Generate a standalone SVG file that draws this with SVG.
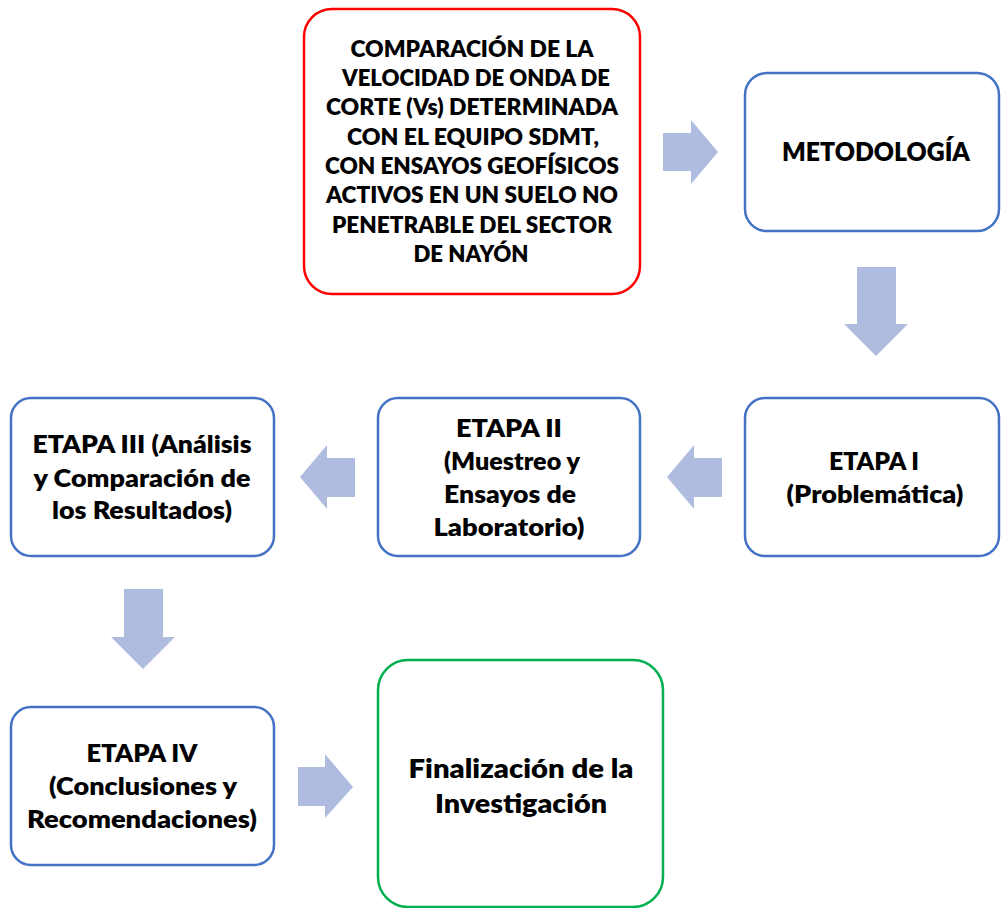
<svg xmlns="http://www.w3.org/2000/svg" width="1001" height="908" viewBox="0 0 1001 908">
<style>
.box{fill:#fff;stroke-width:2.5}
.blue{stroke:#4472C4}
.red{stroke:#FF0000}
.green{stroke:#00B050}
text{font-family:Lato,"Liberation Sans",sans-serif;font-weight:800;fill:#000;text-anchor:middle}
.t21{font-size:22px}
.t24{font-size:25px}
.t26{font-size:27px}
.arrow{fill:#B0BCDF}
</style>
<rect width="1001" height="908" fill="#fff"/>
<g id="connectors">
<polygon class="arrow" points="663,133 691,133 691,120 718,152 691,184 691,171 663,171"/>
<polygon class="arrow" points="857,267 896,267 896,324 908,324 876,356 844,324 857,324"/>
<polygon class="arrow" points="722,458 694,458 694,445 667,477 694,509 694,497 722,497"/>
<polygon class="arrow" points="355,458 327,458 327,445 300,477 327,509 327,497 355,497"/>
<polygon class="arrow" points="124,589 163,589 163,637 175,637 143,669 111,637 124,637"/>
<polygon class="arrow" points="298,767 325,767 325,754 353,787 325,818 325,806 298,806"/>
</g>
<g id="node-titulo">
<rect class="box red" x="304" y="9" width="336" height="285" rx="28"/>
<text class="t21" x="472" y="57" textLength="243" lengthAdjust="spacingAndGlyphs">COMPARACIÓN DE LA</text>
<text class="t21" x="476" y="86" textLength="268" lengthAdjust="spacingAndGlyphs">VELOCIDAD DE ONDA DE</text>
<text class="t21" x="472" y="115" textLength="292" lengthAdjust="spacingAndGlyphs">CORTE (Vs) DETERMINADA</text>
<text class="t21" x="473" y="145" textLength="252" lengthAdjust="spacingAndGlyphs">CON EL EQUIPO SDMT,</text>
<text class="t21" x="472" y="174" textLength="294" lengthAdjust="spacingAndGlyphs">CON ENSAYOS GEOFÍSICOS</text>
<text class="t21" x="472" y="203" textLength="292" lengthAdjust="spacingAndGlyphs">ACTIVOS EN UN SUELO NO</text>
<text class="t21" x="472" y="233" textLength="280" lengthAdjust="spacingAndGlyphs">PENETRABLE DEL SECTOR</text>
<text class="t21" x="471" y="262" textLength="115" lengthAdjust="spacingAndGlyphs">DE NAYÓN</text>
</g>
<g id="node-metodologia">
<rect class="box blue" x="745" y="73" width="254" height="158" rx="22"/>
<text class="t26" x="876" y="161" textLength="188" lengthAdjust="spacingAndGlyphs">METODOLOGÍA</text>
</g>
<g id="node-etapa1">
<rect class="box blue" x="745" y="398" width="254" height="158" rx="20"/>
<text class="t24" x="874" y="470" textLength="90" lengthAdjust="spacingAndGlyphs">ETAPA I</text>
<text class="t24" x="875" y="503" textLength="177" lengthAdjust="spacingAndGlyphs">(Problemática)</text>
</g>
<g id="node-etapa2">
<rect class="box blue" x="378" y="398" width="262" height="158" rx="20"/>
<text class="t24" x="509" y="437" textLength="106" lengthAdjust="spacingAndGlyphs">ETAPA II</text>
<text class="t24" x="512" y="470" textLength="136" lengthAdjust="spacingAndGlyphs">(Muestreo y</text>
<text class="t24" x="510" y="503" textLength="132" lengthAdjust="spacingAndGlyphs">Ensayos de</text>
<text class="t24" x="509" y="536" textLength="151" lengthAdjust="spacingAndGlyphs">Laboratorio)</text>
</g>
<g id="node-etapa3">
<rect class="box blue" x="11" y="398" width="263" height="158" rx="20"/>
<text class="t24" x="142" y="453" textLength="219" lengthAdjust="spacingAndGlyphs">ETAPA III (Análisis</text>
<text class="t24" x="142" y="487" textLength="217" lengthAdjust="spacingAndGlyphs">y Comparación de</text>
<text class="t24" x="142" y="519" textLength="180" lengthAdjust="spacingAndGlyphs">los Resultados)</text>
</g>
<g id="node-etapa4">
<rect class="box blue" x="11" y="707" width="263" height="158" rx="20"/>
<text class="t24" x="142" y="762" textLength="111" lengthAdjust="spacingAndGlyphs">ETAPA IV</text>
<text class="t24" x="143" y="795" textLength="188" lengthAdjust="spacingAndGlyphs">(Conclusiones y</text>
<text class="t24" x="142" y="828" textLength="230" lengthAdjust="spacingAndGlyphs">Recomendaciones)</text>
</g>
<g id="node-final">
<rect class="box green" x="378" y="660" width="285" height="247" rx="30"/>
<text class="t26" x="521" y="778" textLength="225" lengthAdjust="spacingAndGlyphs">Finalización de la</text>
<text class="t26" x="521" y="813" textLength="172" lengthAdjust="spacingAndGlyphs">Investigación</text>
</g>
</svg>
